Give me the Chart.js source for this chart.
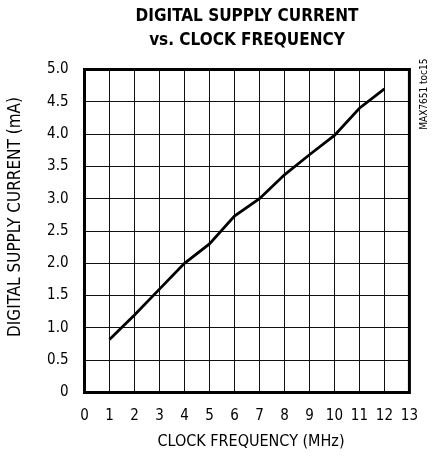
<!DOCTYPE html>
<html>
<head>
<meta charset="utf-8">
<script src="https://cdn.jsdelivr.net/npm/chart.js@4"></script>
<style>
  html, body { margin: 0; padding: 0; background: #fff; }
  canvas { display: block; }
</style>
</head>
<body>
<canvas id="chart" width="433" height="458"></canvas>
<script>
// Data
const clockMHz = [1, 2, 3, 4, 5, 6, 7, 8, 9, 10, 11, 12];
const supplyMA = [0.82, 1.2, 1.6, 2.0, 2.3, 2.73, 3.0, 3.37, 3.68, 3.98, 4.4, 4.7];
const titleLines = ['DIGITAL SUPPLY CURRENT', 'vs. CLOCK FREQUENCY'];
const xTitle = 'CLOCK FREQUENCY (MHz)';
const yTitle = 'DIGITAL SUPPLY CURRENT (mA)';
const partTag = 'MAX7651 toc15';

const FONT = '"DejaVu Sans Condensed", "Liberation Sans", sans-serif';

// Frame, titles and part tag drawn by hand so they sit where the original has them
const framePlugin = {
    id: 'frame',
    afterDraw(chart) {
        const { ctx, chartArea: a } = chart;
        ctx.save();
        ctx.strokeStyle = '#000';
        ctx.lineWidth = 3;
        ctx.strokeRect(a.left, a.top, a.right - a.left, a.bottom - a.top);

        ctx.fillStyle = '#000';
        ctx.textAlign = 'center';
        ctx.textBaseline = 'middle';

        // main title, centred over the plot
        ctx.font = 'bold 17px ' + FONT;
        const cx = (a.left + a.right) / 2;
        ctx.fillText(titleLines[0], cx, 17);
        ctx.fillText(titleLines[1], cx, 41);

        // axis titles
        ctx.font = '16px ' + FONT;
        ctx.fillText(xTitle, cx + 4, 442);

        ctx.save();
        ctx.font = '17px ' + FONT;
        ctx.translate(15.5, 217);
        ctx.rotate(-Math.PI / 2);
        ctx.fillText(yTitle, 0, 0);
        ctx.restore();

        // part tag on the right side
        ctx.translate(a.right + 15, a.top - 11);
        ctx.rotate(-Math.PI / 2);
        ctx.font = '10px ' + FONT;
        ctx.textAlign = 'right';
        ctx.fillText(partTag, 0, 0);
        ctx.restore();
    }
};

new Chart(document.getElementById('chart'), {
    type: 'line',
    data: {
        datasets: [{
            data: clockMHz.map((x, i) => ({ x: x, y: supplyMA[i] })),
            borderColor: '#000',
            borderWidth: 2.8,
            pointRadius: 0,
            tension: 0,
            fill: false
        }]
    },
    options: {
        responsive: false,
        animation: false,
        layout: { padding: { left: 0, right: 22.5, top: 69.5, bottom: 0 } },
        plugins: {
            legend: { display: false },
            tooltip: { enabled: false },
            title: { display: false }
        },
        scales: {
            x: {
                type: 'linear',
                min: 0,
                max: 13,
                afterFit: s => { s.height = 65.5; },
                ticks: { stepSize: 1, color: '#000', font: { family: FONT, size: 15 }, padding: 15 },
                grid: { color: '#111', lineWidth: 1, drawTicks: false },
                border: { display: false }
            },
            y: {
                min: 0,
                max: 5,
                afterFit: s => { s.width = 84.5; },
                ticks: {
                    stepSize: 0.5,
                    color: '#000',
                    font: { family: FONT, size: 15 },
                    padding: 16,
                    callback: v => v === 0 ? '0' : v.toFixed(1)
                },
                grid: { color: '#111', lineWidth: 1, drawTicks: false },
                border: { display: false }
            }
        }
    },
    plugins: [framePlugin]
});
</script>
</body>
</html>
